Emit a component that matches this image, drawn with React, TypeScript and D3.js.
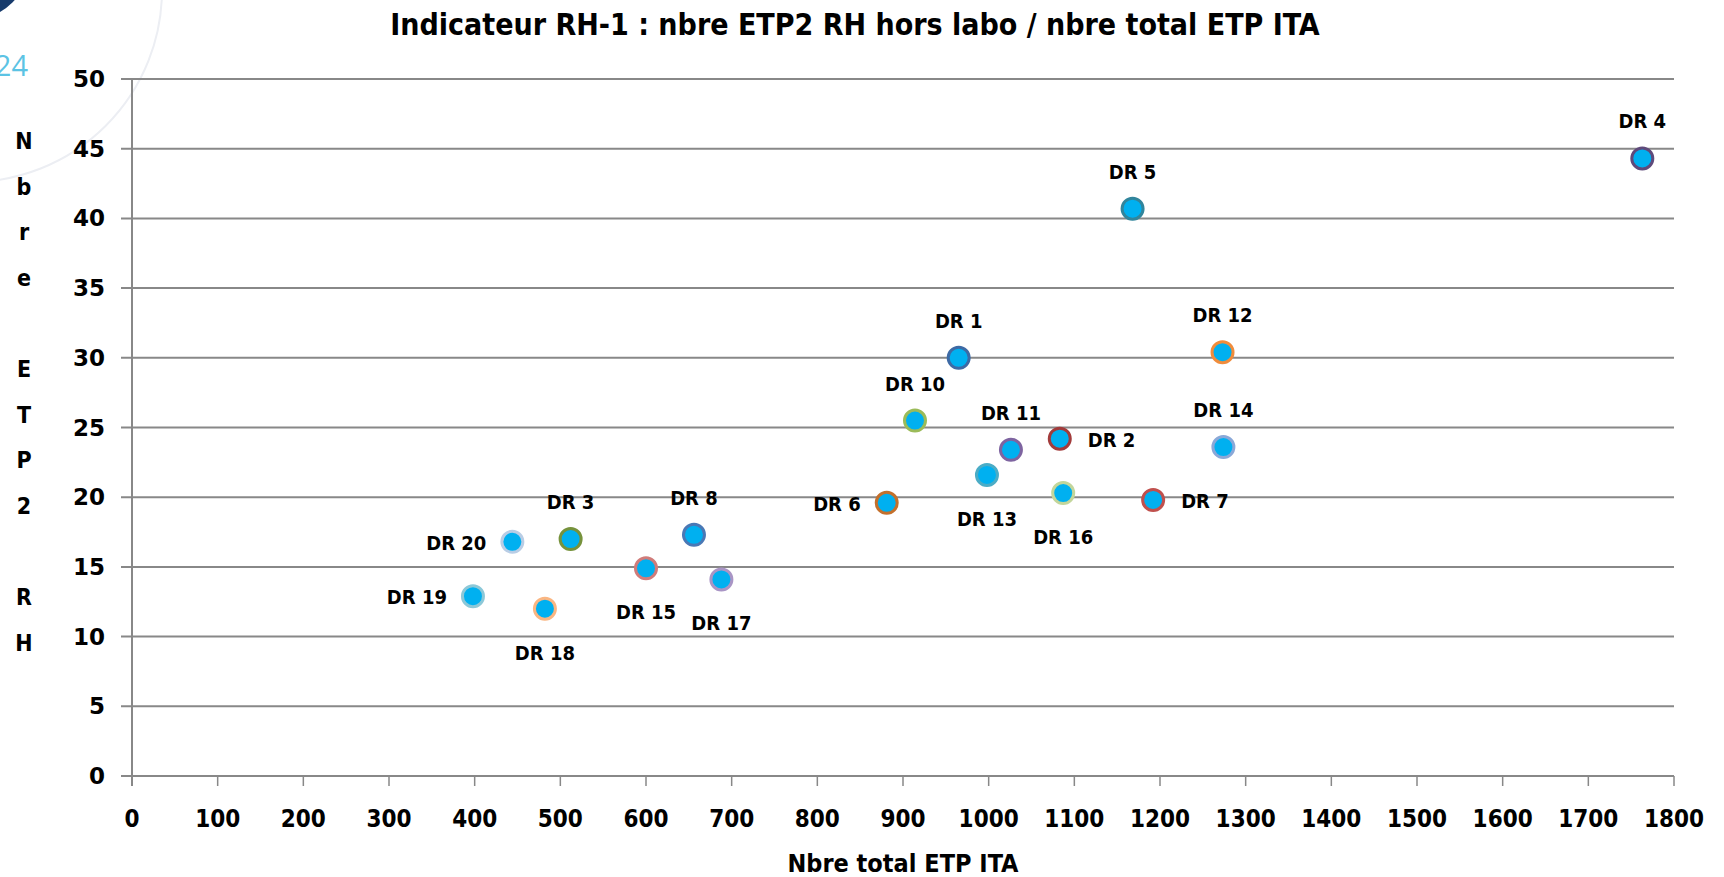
import React, { useRef, useEffect } from "react";
import * as d3 from "d3";

// data
const regions = ["DR 1", "DR 2", "DR 3", "DR 4", "DR 5", "DR 6", "DR 7", "DR 8", "DR 10", "DR 11", "DR 12", "DR 13", "DR 14", "DR 15", "DR 16", "DR 17", "DR 18", "DR 19", "DR 20"];
const etpIta = [965, 1083, 512, 1763, 1168, 881, 1192, 656, 914, 1026, 1273, 998, 1274, 600, 1087, 688, 482, 398, 444];
const etpRh = [30.0, 24.2, 17.0, 44.3, 40.7, 19.6, 19.8, 17.3, 25.5, 23.4, 30.4, 21.6, 23.6, 14.9, 20.3, 14.1, 12.0, 12.9, 16.8];
const xTicks = d3.range(0, 1801, 100);
const yTicks = d3.range(0, 51, 5);

// styling
const outline = ["#3d6aa5", "#a23b3b", "#76923c", "#5f4a7b", "#31859c", "#c4702c", "#c0504d", "#4a78b5", "#9bbb59", "#7e64a0", "#f08c3c", "#4bacc6", "#8aa8d8", "#d07c7a", "#c3d69b", "#a995c5", "#fab682", "#8cc8d8", "#b9cde5"];
const labelSide = ["top", "right", "top", "top", "top", "left", "right", "top", "top", "top", "top", "bottom", "top", "bottom", "bottom", "bottom", "bottom", "left", "left"];

const W = 1724;
const H = 877;
const FONT = "'DejaVu Sans Condensed', 'DejaVu Sans', sans-serif";

export default function App() {
  const ref = useRef<SVGSVGElement>(null);

  useEffect(() => {
    const svg = d3.select(ref.current);
    svg.selectAll("*").remove();

    const x = d3.scaleLinear().domain([0, 1800]).range([132, 1674]);
    const y = d3.scaleLinear().domain([0, 50]).range([776, 79]);

    // slide background bits in the top-left corner
    svg.append("circle").attr("cx", -30).attr("cy", -40).attr("r", 60).attr("fill", "#173b6c");
    svg.append("circle").attr("cx", -30).attr("cy", -10).attr("r", 192)
      .attr("fill", "none").attr("stroke", "#eceef3").attr("stroke-width", 2);
    svg.append("text").attr("x", 28).attr("y", 76).attr("text-anchor", "end")
      .style("font-family", "'Open Sans', sans-serif").style("font-size", "29px")
      .style("fill", "#5cc3e4").text("24");

    // gridlines + y ticks
    svg.append("g").selectAll("line").data(yTicks).enter().append("line")
      .attr("x1", 121).attr("x2", x(1800))
      .attr("y1", (d) => y(d)).attr("y2", (d) => y(d))
      .attr("stroke", "#888").attr("stroke-width", 2);

    svg.append("line").attr("x1", 132).attr("x2", 132).attr("y1", y(50)).attr("y2", y(0) + 10)
      .attr("stroke", "#888").attr("stroke-width", 2);

    svg.append("g").selectAll("line").data(xTicks).enter().append("line")
      .attr("x1", (d) => x(d)).attr("x2", (d) => x(d))
      .attr("y1", y(0)).attr("y2", y(0) + 10)
      .attr("stroke", "#888").attr("stroke-width", 1.5);

    svg.append("g").selectAll("text").data(yTicks).enter().append("text")
      .attr("x", 105).attr("y", (d) => y(d) + 8).attr("text-anchor", "end")
      .style("font-family", "'DejaVu Sans', sans-serif").style("font-weight", "bold").style("font-size", "23px")
      .text((d) => d);

    svg.append("g").selectAll("text").data(xTicks).enter().append("text")
      .attr("x", (d) => x(d)).attr("y", y(0) + 51).attr("text-anchor", "middle")
      .style("font-family", FONT).style("font-weight", "bold").style("font-size", "24px")
      .text((d) => d);

    // titles
    svg.append("text").attr("x", 855).attr("y", 35).attr("text-anchor", "middle")
      .style("font-family", FONT).style("font-weight", "bold").style("font-size", "30px")
      .text("Indicateur RH-1 : nbre ETP2 RH hors labo / nbre total ETP ITA");

    svg.append("text").attr("x", 903).attr("y", 872).attr("text-anchor", "middle")
      .style("font-family", FONT).style("font-weight", "bold").style("font-size", "25px")
      .text("Nbre total ETP ITA");

    svg.append("g").selectAll("text").data("Nbre ETP2 RH".split("")).enter().append("text")
      .attr("x", 24).attr("y", (d, i) => 149 + i * 45.6).attr("text-anchor", "middle")
      .style("font-family", FONT).style("font-weight", "bold").style("font-size", "23px")
      .text((d) => d);

    // points
    const pts = regions.map((r, i) => ({ r, x: etpIta[i], y: etpRh[i], c: outline[i], side: labelSide[i] }));

    svg.append("g").selectAll("circle").data(pts).enter().append("circle")
      .attr("cx", (d) => x(d.x)).attr("cy", (d) => y(d.y)).attr("r", 10.5)
      .attr("fill", "#00b0f0").attr("stroke", (d) => d.c).attr("stroke-width", 3);

    svg.append("g").selectAll("text").data(pts).enter().append("text")
      .attr("x", (d) => x(d.x) + (d.side === "left" ? -26 : d.side === "right" ? 28 : 0))
      .attr("y", (d) => y(d.y) + (d.side === "top" ? -30 : d.side === "bottom" ? 51 : 8))
      .attr("text-anchor", (d) => (d.side === "left" ? "end" : d.side === "right" ? "start" : "middle"))
      .style("font-family", FONT).style("font-weight", "bold").style("font-size", "20px")
      .text((d) => d.r);
  }, []);

  return (
    <svg ref={ref} width={W} height={H} style={{ position: "absolute", left: 0, top: 0, background: "#fff" }} />
  );
}
